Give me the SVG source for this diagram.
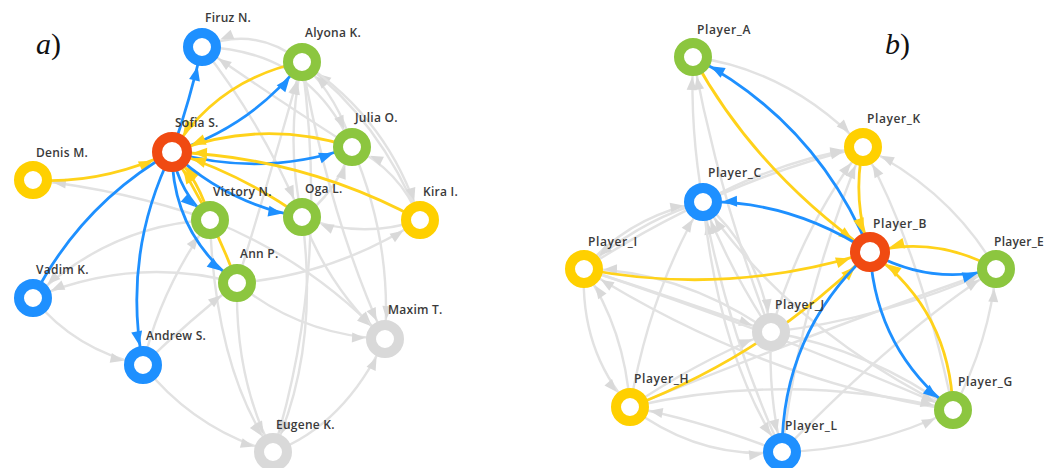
<svg xmlns="http://www.w3.org/2000/svg" width="1050" height="468" viewBox="0 0 1050 468">
<style>
.e{fill:none;stroke-linecap:round}
.g{stroke:#E2E2E2;stroke-width:2.4;marker-end:url(#mg)}
.bl{stroke:#1E90FF;stroke-width:2.8;marker-end:url(#mb)}
.bn{stroke:#1E90FF;stroke-width:2.8}
.ye{stroke:#FFD21A;stroke-width:2.8;marker-end:url(#my)}
.ring{fill:#fff;stroke-width:10}
.blue{stroke:#1E90FF}.green{stroke:#8CC63F}.yellow{stroke:#FFD000}.red{stroke:#F04A12}.grey{stroke:#D9D9D9}
.lbl{font-family:"Open Sans","Liberation Sans",sans-serif;font-weight:600;font-size:12px;fill:#3a3a3a;letter-spacing:0.25px}
.pb{letter-spacing:0.6px}
.pan{font-family:"Liberation Serif",serif;font-size:30px;fill:#111}
</style>
<defs>
<marker id="mb" markerUnits="userSpaceOnUse" orient="auto" refX="34" refY="0" markerWidth="40" markerHeight="14" style="overflow:visible"><path d="M0,-5.5 L14,0 L0,5.5 Z" fill="#1E90FF"/></marker>
<marker id="my" markerUnits="userSpaceOnUse" orient="auto" refX="35" refY="0" markerWidth="40" markerHeight="14" style="overflow:visible"><path d="M0,-5.5 L14,0 L0,5.5 Z" fill="#FFD21A"/></marker>
<marker id="mg" markerUnits="userSpaceOnUse" orient="auto" refX="33" refY="0" markerWidth="40" markerHeight="14" style="overflow:visible"><path d="M0,-5 L13,0 L0,5 Z" fill="#D9D9D9"/></marker>
</defs>
<rect width="1050" height="468" fill="#fff"/>
<text class="pan" x="36" y="54"><tspan font-style="italic">a</tspan>)</text>
<text class="pan" x="885" y="54"><tspan font-style="italic">b</tspan>)</text>
<g id="connectors">
<g id="connectors-a">
<path class="e g" d="M302,62 Q255,25 202,47"/>
<path class="e g" d="M352,147 Q270,95 202,47"/>
<path class="e g" d="M302,217 Q285,140 302,62"/>
<path class="e g" d="M420,220 Q380,120 302,62"/>
<path class="e g" d="M302,62 Q330,220 385,339"/>
<path class="e g" d="M237,283 Q275,160 302,62"/>
<path class="e g" d="M352,147 Q340,100 302,62"/>
<path class="e g" d="M202,47 Q310,50 352,147"/>
<path class="e g" d="M420,220 Q400,170 352,147"/>
<path class="e g" d="M302,217 Q335,195 352,147"/>
<path class="e g" d="M237,283 Q335,275 420,220"/>
<path class="e g" d="M237,283 Q300,335 385,339"/>
<path class="e g" d="M210,220 Q310,260 385,339"/>
<path class="e g" d="M302,217 Q330,290 385,339"/>
<path class="e g" d="M352,147 Q392,240 385,339"/>
<path class="e g" d="M273,452 Q345,425 385,339"/>
<path class="e g" d="M143,365 Q195,430 273,452"/>
<path class="e g" d="M237,283 Q235,380 273,452"/>
<path class="e g" d="M210,220 Q215,370 273,452"/>
<path class="e g" d="M302,217 Q320,350 273,452"/>
<path class="e g" d="M33,298 Q75,350 143,365"/>
<path class="e g" d="M237,283 Q135,255 33,298"/>
<path class="e g" d="M210,220 Q110,225 33,298"/>
<path class="e g" d="M210,220 Q125,190 33,180"/>
<path class="e g" d="M143,365 Q190,320 237,283"/>
<path class="e g" d="M143,365 Q160,290 210,220"/>
<path class="e g" d="M302,62 Q390,120 420,220"/>
<path class="e g" d="M302,62 Q330,270 273,452"/>
<path class="e g" d="M420,220 Q360,240 302,217"/>
<path class="e g" d="M202,47 Q260,120 302,217"/>
<path class="e bl" d="M172,152 Q190,100 202,47"/>
<path class="e bl" d="M172,152 Q251,127 302,62"/>
<path class="e ye" d="M302,62 Q218,79 172,152"/>
<path class="e bl" d="M172,152 Q262,178 352,147"/>
<path class="e ye" d="M352,147 Q262,118 172,152"/>
<path class="e ye" d="M420,220 Q304,157 172,152"/>
<path class="e ye" d="M33,180 Q100,185 172,152"/>
<path class="e bn" d="M172,152 Q81,204 33,298"/>
<path class="e bl" d="M172,152 Q122,254 143,365"/>
<path class="e bl" d="M172,152 Q179,193 210,220"/>
<path class="e ye" d="M210,220 Q200,181 172,152"/>
<path class="e bl" d="M172,152 Q227,204 302,217"/>
<path class="e ye" d="M302,217 Q242,174 172,152"/>
<path class="e bl" d="M172,152 Q172,233 237,283"/>
<path class="e ye" d="M237,283 Q212,214 172,152"/>
</g>
<g id="connectors-b">
<path class="e g" d="M630,407 Q650,290 703,202"/>
<path class="e g" d="M782,452 Q730,340 703,202"/>
<path class="e g" d="M953,410 Q790,330 703,202"/>
<path class="e g" d="M771,332 Q730,270 703,202"/>
<path class="e g" d="M584,269 Q630,215 703,202"/>
<path class="e g" d="M771,332 Q680,270 584,269"/>
<path class="e g" d="M953,410 Q760,380 584,269"/>
<path class="e g" d="M584,269 Q580,350 630,407"/>
<path class="e g" d="M630,407 Q625,330 584,269"/>
<path class="e g" d="M584,269 Q680,300 771,332"/>
<path class="e g" d="M703,202 Q760,250 771,332"/>
<path class="e g" d="M782,452 Q700,420 630,407"/>
<path class="e g" d="M630,407 Q700,460 782,452"/>
<path class="e g" d="M771,332 Q768,395 782,452"/>
<path class="e g" d="M703,202 Q720,360 782,452"/>
<path class="e g" d="M782,452 Q870,450 953,410"/>
<path class="e g" d="M630,407 Q790,370 953,410"/>
<path class="e g" d="M771,332 Q870,350 953,410"/>
<path class="e g" d="M584,269 Q770,330 953,410"/>
<path class="e g" d="M953,410 Q990,340 996,269"/>
<path class="e g" d="M782,452 Q900,330 996,269"/>
<path class="e g" d="M771,332 Q880,320 996,269"/>
<path class="e g" d="M630,407 Q820,330 996,269"/>
<path class="e g" d="M703,202 Q780,160 863,147"/>
<path class="e g" d="M584,269 Q720,180 863,147"/>
<path class="e g" d="M771,332 Q800,230 863,147"/>
<path class="e g" d="M693,57 Q790,70 863,147"/>
<path class="e g" d="M996,269 Q950,190 863,147"/>
<path class="e g" d="M953,410 Q920,250 863,147"/>
<path class="e g" d="M782,452 Q800,300 863,147"/>
<path class="e g" d="M703,202 Q690,130 693,57"/>
<path class="e g" d="M771,332 Q720,200 693,57"/>
<path class="e g" d="M703,202 Q640,220 584,269"/>
<path class="e g" d="M630,407 Q700,360 771,332"/>
<path class="e bl" d="M870,252 Q817,122 693,57"/>
<path class="e ye" d="M693,57 Q755,171 870,252"/>
<path class="e ye" d="M863,147 Q852,200 870,252"/>
<path class="e bl" d="M870,252 Q790,200 703,202"/>
<path class="e ye" d="M584,269 Q729,297 870,252"/>
<path class="e ye" d="M630,407 Q766,355 870,252"/>
<path class="e bn" d="M870,252 Q782,333 782,452"/>
<path class="e bl" d="M870,252 Q930,286 996,269"/>
<path class="e ye" d="M996,269 Q936,235 870,252"/>
<path class="e bl" d="M870,252 Q876,350 953,410"/>
<path class="e ye" d="M953,410 Q950,310 870,252"/>
</g>
</g>
<g id="node-firuz"><circle class="ring blue" cx="202" cy="47" r="14"/><text class="lbl" x="205" y="22">Firuz N.</text></g>
<g id="node-alyona"><circle class="ring green" cx="302" cy="62" r="14"/><text class="lbl" x="305" y="37">Alyona K.</text></g>
<g id="node-sofia"><circle class="ring red" cx="172" cy="152" r="15"/><text class="lbl" x="175" y="127">Sofia S.</text></g>
<g id="node-julia"><circle class="ring green" cx="352" cy="147" r="14"/><text class="lbl" x="355" y="122">Julia O.</text></g>
<g id="node-denis"><circle class="ring yellow" cx="33" cy="180" r="14"/><text class="lbl" x="36" y="157">Denis M.</text></g>
<g id="node-victory"><circle class="ring green" cx="210" cy="220" r="14"/><text class="lbl" x="213" y="196">Victory N.</text></g>
<g id="node-oga"><circle class="ring green" cx="302" cy="217" r="14"/><text class="lbl" x="305" y="193">Oga L.</text></g>
<g id="node-kira"><circle class="ring yellow" cx="420" cy="220" r="14"/><text class="lbl" x="423" y="196">Kira I.</text></g>
<g id="node-vadim"><circle class="ring blue" cx="33" cy="298" r="14"/><text class="lbl" x="36" y="274">Vadim K.</text></g>
<g id="node-ann"><circle class="ring green" cx="237" cy="283" r="14"/><text class="lbl" x="240" y="258">Ann P.</text></g>
<g id="node-andrew"><circle class="ring blue" cx="143" cy="365" r="14"/><text class="lbl" x="146" y="340">Andrew S.</text></g>
<g id="node-maxim"><circle class="ring grey" cx="385" cy="339" r="14"/><text class="lbl" x="388" y="314">Maxim T.</text></g>
<g id="node-eugene"><circle class="ring grey" cx="273" cy="452" r="14"/><text class="lbl" x="276" y="429">Eugene K.</text></g>
<g id="node-player-a"><circle class="ring green" cx="693" cy="57" r="14"/><text class="lbl pb" x="697" y="34">Player_A</text></g>
<g id="node-player-k"><circle class="ring yellow" cx="863" cy="147" r="14"/><text class="lbl pb" x="867" y="123">Player_K</text></g>
<g id="node-player-c"><circle class="ring blue" cx="703" cy="202" r="14"/><text class="lbl pb" x="708" y="177">Player_C</text></g>
<g id="node-player-b"><circle class="ring red" cx="870" cy="252" r="15"/><text class="lbl pb" x="873" y="228">Player_B</text></g>
<g id="node-player-e"><circle class="ring green" cx="996" cy="269" r="14"/><text class="lbl" x="994" y="246">Player_E</text></g>
<g id="node-player-i"><circle class="ring yellow" cx="584" cy="269" r="14"/><text class="lbl pb" x="588" y="246">Player_I</text></g>
<g id="node-player-j"><circle class="ring grey" cx="771" cy="332" r="14"/><text class="lbl pb" x="775" y="309">Player_J</text></g>
<g id="node-player-h"><circle class="ring yellow" cx="630" cy="407" r="14"/><text class="lbl pb" x="634" y="383">Player_H</text></g>
<g id="node-player-l"><circle class="ring blue" cx="782" cy="452" r="14"/><text class="lbl pb" x="785" y="430">Player_L</text></g>
<g id="node-player-g"><circle class="ring green" cx="953" cy="410" r="14"/><text class="lbl pb" x="958" y="386">Player_G</text></g>
</svg>
